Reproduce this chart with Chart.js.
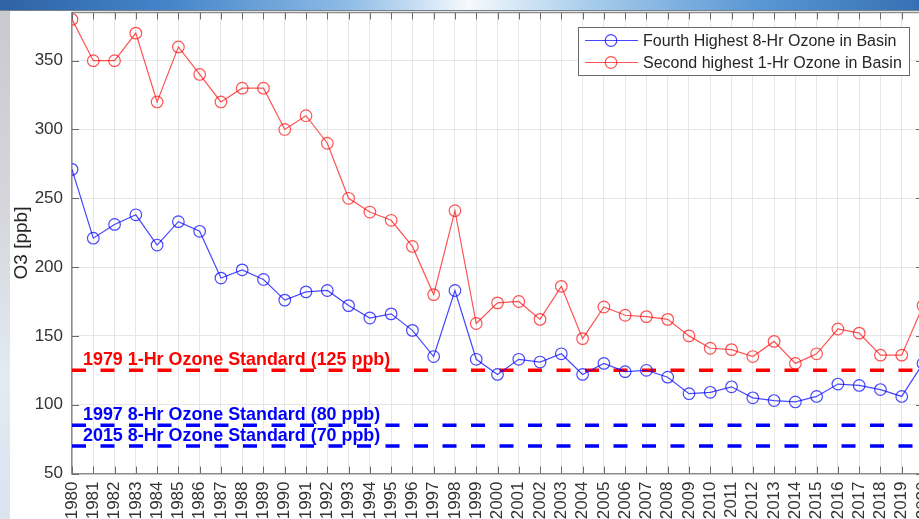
<!DOCTYPE html>
<html>
<head>
<meta charset="utf-8">
<script src="https://cdn.jsdelivr.net/npm/chart.js@4/dist/chart.umd.min.js"></script>
<style>
html, body { margin: 0; padding: 0; width: 919px; height: 519px; overflow: hidden; background: #fff; }
#banner { position: absolute; left: 0; top: 0; width: 919px; height: 10px; border-bottom: 1px solid #76818e;
  background: linear-gradient(to right, #2f62a6 0%, #4384c8 18%, #8fbce6 38%, #f6f9fd 51%, #a8cdec 64%, #5b98d5 82%, #3670b4 100%); }
#strip { position: absolute; left: 0; top: 11px; width: 10px; height: 508px;
  background: linear-gradient(to bottom, #c9cacf 0%, #d5d7db 40%, #e3eaf2 72%, #d9e4ef 100%); }
#wrap { position: absolute; left: 0; top: 0; width: 950px; height: 519px; }
</style>
</head>
<body>
<div id="banner"></div>
<div id="strip"></div>
<div id="wrap"><canvas id="ozone" width="950" height="519"></canvas></div>
<script>
// data
const years = [1980, 1981, 1982, 1983, 1984, 1985, 1986, 1987, 1988, 1989,
               1990, 1991, 1992, 1993, 1994, 1995, 1996, 1997, 1998, 1999,
               2000, 2001, 2002, 2003, 2004, 2005, 2006, 2007, 2008, 2009,
               2010, 2011, 2012, 2013, 2014, 2015, 2016, 2017, 2018, 2019, 2020];
const fourth8hr = [271, 221, 231, 238, 216, 233, 226, 192, 198, 191,
                   176, 182, 183, 172, 163, 166, 154, 135, 183, 133,
                   122, 133, 131, 137, 122, 130, 124, 125, 120, 108,
                   109, 113, 105, 103, 102, 106, 115, 114, 111, 106, 130];
const second1hr = [380, 350, 350, 370, 320, 360, 340, 320, 330, 330,
                   300, 310, 290, 250, 240, 234, 215, 180, 241, 159,
                   174, 175, 162, 186, 148, 171, 165, 164, 162, 150,
                   141, 140, 135, 146, 130, 137, 155, 152, 136, 136, 172];
const yTicks = [50, 100, 150, 200, 250, 300, 350];

const seriesNames = ["Fourth Highest 8-Hr Ozone in Basin", "Second highest 1-Hr Ozone in Basin"];
const seriesColors = ["rgba(0,0,255,0.72)", "rgba(255,0,0,0.68)"];

const stdLabels = ["1979 1-Hr Ozone Standard (125 ppb)", "1997 8-Hr Ozone Standard (80 ppb)", "2015 8-Hr Ozone Standard (70 ppb)"];
const stdValues = [125, 85, 70];
const stdColors = ["#ff0000", "#0000ff", "#0000ff"];

const FONT = "'Liberation Sans', Arial, Helvetica, sans-serif";

function pairs(vals) {
    return years.map((y, i) => ({x: y, y: vals[i]}));
}

let datasets = [];
stdValues.forEach((v, i) => {
    datasets.push({
        label: stdLabels[i],
        data: [{x: years[0], y: v}, {x: years[years.length - 1], y: v}],
        borderColor: stdColors[i],
        borderWidth: 3.5,
        borderDash: [14, 14.5],
        pointRadius: 0,
        order: 2
    });
});
[fourth8hr, second1hr].forEach((vals, i) => {
    datasets.push({
        label: seriesNames[i],
        data: pairs(vals),
        borderColor: seriesColors[i],
        borderWidth: 1.2,
        pointStyle: "circle",
        pointRadius: 5.8,
        pointBorderWidth: 1.2,
        pointBorderColor: seriesColors[i],
        pointBackgroundColor: "rgba(0,0,0,0)",
        order: 1
    });
});

// MATLAB style frame, inward ticks, standard labels and legend box
const matlabLook = {
    id: "matlabLook",
    afterDatasetsDraw(chart) {
        const ctx = chart.ctx;
        const xs = chart.scales.x, ys = chart.scales.y;
        ctx.save();
        ctx.font = "bold 17.9px " + FONT;
        ctx.textBaseline = "alphabetic";
        ctx.textAlign = "left";
        stdLabels.forEach((t, i) => {
            ctx.fillStyle = stdColors[i];
            ctx.fillText(t, xs.getPixelForValue(years[0]) + 11, ys.getPixelForValue(stdValues[i]) - 5);
        });
        ctx.restore();
    },
    afterDraw(chart) {
        const ctx = chart.ctx;
        const a = chart.chartArea;
        const xs = chart.scales.x, ys = chart.scales.y;
        ctx.save();
        // top and right border
        ctx.strokeStyle = "#8c8c8c";
        ctx.lineWidth = 1.5;
        ctx.beginPath();
        ctx.moveTo(a.left, a.top);
        ctx.lineTo(a.right, a.top);
        ctx.lineTo(a.right, a.bottom);
        ctx.stroke();
        // ticks pointing in
        ctx.strokeStyle = "#6a6a6a";
        ctx.lineWidth = 1;
        ctx.beginPath();
        years.forEach(yr => {
            const px = Math.round(xs.getPixelForValue(yr)) + 0.5;
            ctx.moveTo(px, a.bottom); ctx.lineTo(px, a.bottom - 7);
            ctx.moveTo(px, a.top); ctx.lineTo(px, a.top + 7);
        });
        yTicks.forEach(v => {
            const py = Math.round(ys.getPixelForValue(v)) + 0.5;
            ctx.moveTo(a.left, py); ctx.lineTo(a.left + 7, py);
            ctx.moveTo(a.right, py); ctx.lineTo(a.right - 7, py);
        });
        ctx.stroke();

        // legend
        const bx = 578.5, by = 27.5, bw = 331, bh = 48;
        ctx.fillStyle = "#ffffff";
        ctx.fillRect(bx, by, bw, bh);
        ctx.strokeStyle = "#6b6b6b";
        ctx.lineWidth = 1;
        ctx.strokeRect(bx, by, bw, bh);
        const rows = [40.5, 62.5];
        ctx.font = "16px " + FONT;
        ctx.textBaseline = "middle";
        ctx.textAlign = "left";
        seriesNames.forEach((name, i) => {
            const ry = rows[i];
            ctx.strokeStyle = seriesColors[i];
            ctx.lineWidth = 1.2;
            ctx.beginPath();
            ctx.moveTo(585, ry); ctx.lineTo(638, ry);
            ctx.stroke();
            ctx.beginPath();
            ctx.arc(611, ry, 5.8, 0, Math.PI * 2);
            ctx.stroke();
            ctx.fillStyle = "#262626";
            ctx.fillText(name, 643, ry + 1);
        });
        ctx.restore();
    }
};

new Chart(document.getElementById("ozone"), {
    type: "line",
    data: {datasets: datasets},
    options: {
        responsive: false,
        animation: false,
        layout: {padding: {top: 12.5, right: 27, bottom: 0, left: 0}},
        plugins: {legend: {display: false}, tooltip: {enabled: false}},
        scales: {
            x: {
                type: "linear",
                min: 1980,
                max: 2020,
                afterBuildTicks: s => { s.ticks = years.map(v => ({value: v})); },
                afterFit: s => {
                    s.height = 45.5;
                    s.paddingTop = 0; s.paddingBottom = 0; s.paddingLeft = 0; s.paddingRight = 0;
                },
                ticks: {
                    autoSkip: false,
                    minRotation: 90,
                    maxRotation: 90,
                    padding: 8,
                    color: "#333333",
                    font: {family: FONT, size: 17},
                    callback: v => String(v)
                },
                grid: {color: "#e6e6e6", drawTicks: false},
                border: {color: "#8c8c8c", width: 1.5}
            },
            y: {
                type: "linear",
                min: 50,
                max: 385,
                afterBuildTicks: s => { s.ticks = yTicks.map(v => ({value: v})); },
                afterFit: s => {
                    s.width = 72;
                    s.paddingTop = 0; s.paddingBottom = 0; s.paddingLeft = 0; s.paddingRight = 0;
                },
                ticks: {
                    padding: 9,
                    color: "#333333",
                    font: {family: FONT, size: 17}
                },
                grid: {color: "#e6e6e6", drawTicks: false},
                border: {color: "#8c8c8c", width: 1.5},
                title: {
                    display: true,
                    text: "O3 [ppb]",
                    color: "#262626",
                    font: {family: FONT, size: 19},
                    padding: {top: 10, bottom: 0}
                }
            }
        }
    },
    plugins: [matlabLook]
});
</script>
</body>
</html>
